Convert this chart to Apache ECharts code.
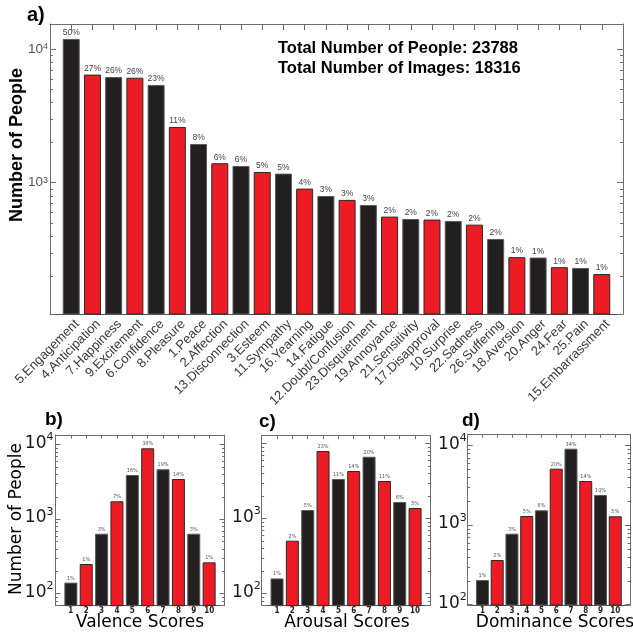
<!DOCTYPE html>
<html><head><meta charset="utf-8">
<script src="https://cdn.jsdelivr.net/npm/echarts@6/dist/echarts.min.js"></script>
<style>html,body{margin:0;padding:0;background:#fff}#c{width:633px;height:634px}</style>
</head><body><div id="c"></div>
<script>
// ---------------- data ----------------
const emotionCategories = ['5.Engagement','4.Anticipation','7.Happiness','9.Excitement','6.Confidence','8.Pleasure','1.Peace','2.Affection','13.Disconnection','3.Esteem','11.Sympathy','16.Yearning','14.Fatigue','12.Doubt/Confusion','23.Disquietment','19.Annoyance','21.Sensitivity','17.Disapproval','10.Surprise','22.Sadness','26.Suffering','18.Aversion','20.Anger','24.Fear','25.Pain','15.Embarrassment'];
const emotionCounts = [11890, 6430, 6166, 6095, 5383, 2610, 1946, 1397, 1333, 1202, 1168, 902, 795, 743, 681, 557, 535, 529, 517, 485, 379, 277, 275, 233, 230, 207];
const emotionPercents = ['50%','27%','26%','26%','23%','11%','8%','6%','6%','5%','5%','4%','3%','3%','3%','2%','2%','2%','2%','2%','2%','1%','1%','1%','1%','1%'];

const scoreLabels = ['1','2','3','4','5','6','7','8','9','10'];
const valenceCounts = [140, 249, 635, 1729, 3899, 8893, 4645, 3443, 635, 262];
const valencePercents = ['1%','1%','3%','7%','16%','38%','19%','14%','3%','1%'];
const arousalCounts = [158, 503, 1291, 7887, 3343, 4275, 6625, 3143, 1650, 1372];
const arousalPercents = ['1%','2%','5%','23%','11%','14%','20%','11%','6%','5%'];
const dominanceCounts = [203, 363, 778, 1298, 1531, 5106, 9120, 3573, 2383, 1286];
const dominancePercents = ['1%','2%','3%','5%','6%','20%','34%','14%','10%','5%'];

const totalPeopleText = 'Total Number of People: 23788';
const totalImagesText = 'Total Number of Images: 18316';

// ---------------- styling ----------------
const FA = '"Liberation Sans", Arial, Helvetica, sans-serif';
const FB = '"DejaVu Sans", Verdana, sans-serif';
const FBC = '"DejaVu Sans Condensed", "DejaVu Sans", sans-serif';
const FRAME = '#6e6e6e';
const BLACK = {color: '#231f20', borderColor: '#5a5a5a', borderWidth: 1};
const RED = {color: '#ed1c24', borderColor: '#2a2a2a', borderWidth: 1};

function minorTickValues(min, max) {
  const out = [];
  for (let e = Math.floor(Math.log10(min)); e <= Math.ceil(Math.log10(max)); e++) {
    for (let m = 2; m <= 9; m++) {
      const v = m * Math.pow(10, e);
      if (v > min && v < max) out.push(v);
    }
  }
  return out;
}

const grids = [], xAxes = [], yAxes = [], series = [];

function addPanel(p) {
  const gi = grids.length;
  grids.push({left: p.left, top: p.top, width: p.width, height: p.height});
  const cats = [''].concat(p.categories, ['']);
  const xb = xAxes.length;
  const shifted = !!p.labelShift;
  xAxes.push({type: 'category', gridIndex: gi, data: cats, boundaryGap: false, position: 'bottom',
    axisLine: {show: true, onZero: false, lineStyle: {color: '#505050', width: 1}},
    axisTick: {show: false}, splitLine: {show: false},
    axisLabel: shifted ? {show: false} : Object.assign({interval: 0}, p.xLabel)});
  xAxes.push({type: 'category', gridIndex: gi, data: cats, boundaryGap: false, position: 'top',
    axisLine: {show: true, onZero: false, lineStyle: {color: FRAME, width: 1}},
    axisTick: {show: true, inside: true, interval: 0, length: p.topTick, lineStyle: {color: FRAME}},
    axisLabel: {show: false}, splitLine: {show: false}});
  const yb = yAxes.length;
  const fmt = function (v) {
    const l = Math.log10(v), e = Math.round(l);
    if (Math.abs(l - e) > 1e-6 || p.hideExp.indexOf(e) >= 0) return '';
    return '{b|10}{s|' + e + '}';
  };
  const common = {type: 'log', logBase: 10, gridIndex: gi, min: p.min, max: p.max, splitLine: {show: false}};
  yAxes.push(Object.assign({}, common, {position: 'left',
    axisLine: {show: true, lineStyle: {color: FRAME}},
    axisTick: {show: true, inside: true, length: p.majorTick, lineStyle: {color: FRAME}},
    axisLabel: {formatter: fmt, margin: p.yMargin, rich: p.yRich, padding: p.yPad || 0}}));
  yAxes.push(Object.assign({}, common, {position: 'right',
    axisLine: {show: true, lineStyle: {color: FRAME}},
    axisTick: {show: true, inside: true, length: p.majorTick, lineStyle: {color: FRAME}},
    axisLabel: {show: false}}));
  const data = ['-'].concat(p.values.map(function (v, i) {
    return {value: v, itemStyle: i % 2 === 0 ? BLACK : RED, label: {formatter: p.percents[i]}};
  }), ['-']);
  series.push({type: 'bar', xAxisIndex: xb, yAxisIndex: yb, barWidth: p.barWidth, data: data,
    clip: true, animation: false,
    label: Object.assign({show: true, position: 'top'}, p.pctLabel)});
  const ml = p.minorTick;
  series.push({type: 'custom', xAxisIndex: xb, yAxisIndex: yb, silent: true, clip: false, animation: false,
    data: minorTickValues(p.min, p.max).map(function (v) { return [0, v]; }),
    renderItem: function (params, api) {
      const cs = params.coordSys;
      const y = Math.round(api.coord([0, api.value(1)])[1]) + 0.5;
      const st = {stroke: FRAME, lineWidth: 1};
      return {type: 'group', children: [
        {type: 'line', shape: {x1: cs.x, y1: y, x2: cs.x + ml, y2: y}, style: st},
        {type: 'line', shape: {x1: cs.x + cs.width - ml, y1: y, x2: cs.x + cs.width, y2: y}, style: st}
      ]};
    }});
  if (shifted) {
    // category labels drawn on a copy of the axis nudged sideways, as in the original figure
    const lg = grids.length;
    grids.push({left: p.left + p.labelShift, top: p.top, width: p.width, height: p.height});
    xAxes.push({type: 'category', gridIndex: lg, data: cats, boundaryGap: false, position: 'bottom',
      axisLine: {show: false}, axisTick: {show: false}, splitLine: {show: false},
      axisLabel: Object.assign({interval: 0}, p.xLabel)});
    yAxes.push({type: 'value', gridIndex: lg, show: false, min: 0, max: 1});
  }
}

// panel a
addPanel({
  left: 50, top: 24, width: 573, height: 290,
  categories: emotionCategories, values: emotionCounts, percents: emotionPercents,
  min: 104, max: 15380, barWidth: 17, topTick: 6, majorTick: 6, minorTick: 3, hideExp: [],
  yMargin: 2, labelShift: 6,
  yRich: {b: {fontSize: 13.5, fontFamily: FA, color: '#555'},
          s: {fontSize: 9, fontFamily: FA, color: '#555', verticalAlign: 'top'}},
  xLabel: {rotate: 45, margin: 8, fontSize: 13, fontFamily: FA, color: '#3a3a3a'},
  pctLabel: {distance: 1.5, fontSize: 8.5, fontFamily: FA, color: '#444'}
});

const bottomRich = {b: {fontSize: 17, lineHeight: 20, fontFamily: FB, color: '#1a1a1a', verticalAlign: 'bottom'},
                    s: {fontSize: 11, lineHeight: 13, padding: [0, 0, 12, 0], fontFamily: FB, color: '#1a1a1a', verticalAlign: 'top'}};
const bottomX = {fontSize: 8, fontWeight: 'bold', fontFamily: FBC, color: '#222', margin: 1.5};
const bottomPct = {distance: 1.5, fontSize: 5.5, fontFamily: FBC, color: '#555'};

addPanel({
  left: 55.5, top: 435, width: 169, height: 170.7,
  categories: scoreLabels, values: valenceCounts, percents: valencePercents,
  min: 68.6, max: 13415, barWidth: 13, topTick: 3.5, majorTick: 5, minorTick: 2.5, hideExp: [],
  yMargin: 2, yPad: [0, 0, 5, 0], yRich: bottomRich, xLabel: bottomX, pctLabel: bottomPct
});
addPanel({
  left: 261.7, top: 435.7, width: 168.7, height: 170,
  categories: scoreLabels, values: arousalCounts, percents: arousalPercents,
  min: 68.4, max: 12630, barWidth: 13, topTick: 3.5, majorTick: 5, minorTick: 2.5, hideExp: [4],
  yMargin: 1, yPad: [0, 0, 5, 0], yRich: bottomRich, xLabel: bottomX, pctLabel: bottomPct
});
addPanel({
  left: 467.7, top: 434.3, width: 169, height: 170.7,
  categories: scoreLabels, values: dominanceCounts, percents: dominancePercents,
  min: 98.6, max: 13830, barWidth: 13, topTick: 3.5, majorTick: 5, minorTick: 2.5, hideExp: [],
  yMargin: 1, yPad: [0, 0, 5, 0], yRich: bottomRich, xLabel: bottomX, pctLabel: bottomPct
});

function txt(x, y, text, size, weight, family, rot, align) {
  return {type: 'text', x: x, y: y, rotation: rot || 0, silent: true,
    style: {text: text, fontSize: size, fontWeight: weight, fontFamily: family, fill: '#000',
            align: align || 'left', verticalAlign: 'middle'}};
}

const chart = echarts.init(document.getElementById('c'), null, {renderer: 'canvas'});
chart.setOption({
  animation: false,
  backgroundColor: '#fff',
  grid: grids, xAxis: xAxes, yAxis: yAxes, series: series,
  graphic: [
    txt(27, 15, 'a)', 20, 'bold', FA),
    txt(278, 48, totalPeopleText, 16.5, 'bold', FA),
    txt(278, 68, totalImagesText, 16.5, 'bold', FA),
    txt(17.5, 145, 'Number of People', 18, 'bold', FA, Math.PI / 2, 'center'),
    txt(45, 420, 'b)', 19, 'bold', FA),
    txt(259, 422, 'c)', 19, 'bold', FA),
    txt(462, 421, 'd)', 19, 'bold', FA),
    txt(17, 519, 'Number of People', 17, 'normal', FB, Math.PI / 2, 'center'),
    txt(140, 623, 'Valence Scores', 17, 'normal', FB, 0, 'center'),
    txt(347, 623, 'Arousal Scores', 17, 'normal', FB, 0, 'center'),
    txt(555, 623, 'Dominance Scores', 17, 'normal', FB, 0, 'center')
  ]
});
</script></body></html>
